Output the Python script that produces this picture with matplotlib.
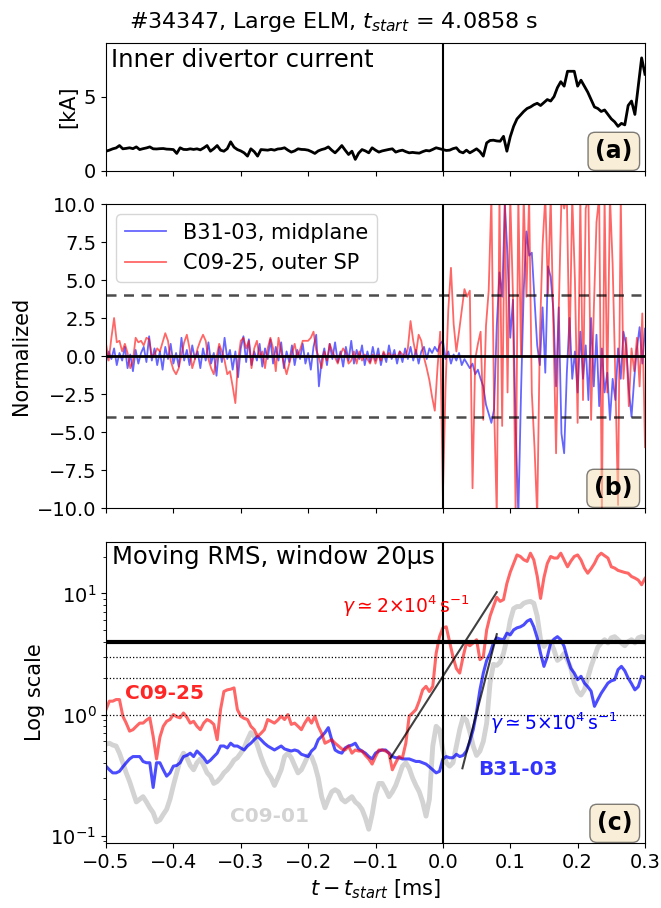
import numpy as np
import matplotlib
matplotlib.use("Agg")
import matplotlib.pyplot as plt
from matplotlib.ticker import MultipleLocator

# time axis in ms relative to t_start
t_a = np.linspace(-0.5, 0.3, 161)
t_b = np.linspace(-0.5, 0.3, 201)
t_c = np.linspace(-0.5, 0.3, 161)

# (a) inner divertor current [kA]
current_ka = [
    1.33, 1.40, 1.49, 1.55, 1.71, 1.49, 1.52, 1.56, 1.50, 1.62,
    1.44, 1.50, 1.55, 1.62, 1.49, 1.48, 1.50, 1.51, 1.47, 1.46,
    1.44, 1.18, 1.56, 1.45, 1.44, 1.49, 1.45, 1.49, 1.42, 1.55,
    1.71, 1.33, 1.50, 1.71, 1.40, 1.33, 1.50, 1.96, 1.60, 1.44,
    1.35, 1.22, 1.00, 1.49, 1.30, 1.00, 1.44, 1.42, 1.40, 1.45,
    1.40, 1.48, 1.50, 1.56, 1.40, 1.27, 1.35, 1.49, 1.45, 1.44,
    1.40, 1.30, 1.18, 1.35, 1.44, 1.50, 1.62, 1.40, 1.22, 1.45,
    1.71, 1.40, 1.11, 1.33, 0.78, 1.20, 1.44, 1.35, 1.22, 1.56,
    1.40, 1.27, 1.35, 1.40, 1.45, 1.49, 1.27, 1.35, 1.40, 1.30,
    1.22, 1.25, 1.22, 1.20, 1.30, 1.38, 1.35, 1.45, 1.56, 1.50,
    1.44, 1.38, 1.40, 1.50, 1.56, 1.30, 1.22, 1.40, 1.22, 1.35,
    1.49, 1.30, 1.00, 1.89, 2.05, 2.07, 2.02, 2.00, 2.33, 1.33,
    2.30, 3.00, 3.50, 3.75, 4.00, 4.20, 4.30, 4.45, 4.55, 4.40,
    4.60, 4.80, 4.70, 5.00, 5.60, 6.00, 5.70, 6.70, 6.70, 6.70,
    5.70, 6.10, 5.70, 5.30, 4.80, 4.30, 4.20, 4.00, 4.10, 3.80,
    3.50, 3.30, 3.00, 3.20, 3.10, 4.40, 4.70, 3.80, 5.70, 7.60,
    6.50,
]

# (b) normalized signals
b31_norm = [
    -0.4, 0.3, -0.2, 0.5, -0.6, 0.2, -0.3, 0.6, -0.8, 0.1,
    -1.0, 0.4, -0.5, 0.2, 0.6, -0.4, 1.3, -0.3, 0.5, -0.6,
    0.3, -0.9, 0.6, -0.2, 0.8, -0.5, 0.2, -0.7, 1.2, -0.3,
    0.4, -0.6, 0.7, -0.2, 0.3, -0.8, 0.5, -0.3, 0.9, -0.5,
    0.2, -1.3, 0.6, -0.4, 1.2, -0.2, 0.4, -0.9, 0.3, -1.4,
    0.5, 1.3, -0.4, 1.1, -0.6, 0.3, -0.3, 0.8, -0.7, 0.5,
    -0.2, 1.1, -0.5, 0.6, -0.3, 0.9, -0.8, 0.3, -0.4, 0.7,
    -0.6, 0.4, -0.2, 0.8, -0.5, 0.2, -0.9, 0.6, 1.4, -2.0,
    -0.3, 0.5, -0.6, 0.8, -0.2, 0.9, -0.4, 0.3, -0.7, 0.6,
    -0.3, 1.0, -0.5, 0.4, -0.2, 0.7, -0.6, 0.3, -0.4, 0.6,
    -0.3, 0.5, -0.6, 0.2, -0.4, 0.7, -0.2, 0.4, -0.5, 0.3,
    -0.4, 0.5, -0.2, 0.6, -0.3, 0.4, -0.5, 0.3, 0.6, -0.2,
    0.5, 0.2, 0.6, 0.3, 0.8, 1.0, -0.2, 0.3, -0.5, 0.1,
    -0.3, 0.2, -0.6, -0.2, -0.5, -0.8, -0.5, -1.2, -0.9, -1.5,
    -2.0, -3.2, -3.8, -4.4, -3.5, 2.0, 5.5, 3.9, 10.0, 6.6,
    1.2, 3.7, -4.6, -10.5, -2.4, 4.3, 8.2, 6.6, 6.8, 3.7,
    0.7, -0.6, 3.2, -1.1, 5.9, 5.2, 3.0, -2.0, 3.2, -5.1,
    -6.4, -1.1, 2.5, -1.5, 0.3, -2.4, 1.6, -1.5, 0.7, -2.9,
    2.5, -2.0, 1.4, -3.3, 0.5, -2.4, -1.1, -4.2, -1.5, -2.9,
    0.5, -1.5, 1.6, 0.7, -2.2, -4.0, -1.5, 0.5, 1.9, -0.5,
    1.8,
]
c09_25_norm = [
    0.8, -0.3, 1.2, 2.5, 0.9, 1.0, 0.3, 0.8, 0.2, -0.8,
    -0.3, 1.2, 0.9, 1.0, 0.7, 1.2, 1.1, -0.1, 0.1, 0.5,
    0.3, 0.9, 1.5, 1.0, -0.3, -0.9, -1.2, -0.8, 0.1, 0.9,
    1.4, 0.5, -0.8, -0.2, 0.5, 1.0, 1.4, 1.0, -0.2, -0.8,
    -1.2, -0.1, 0.8, 0.3, -0.3, -1.2, -1.0, -2.0, -3.1, -0.3,
    1.0, 1.2, 0.5, 1.0, -0.8, 0.5, 1.0, -0.1, 0.3, -0.8,
    0.5, 1.2, 0.5, -1.0, 1.2, 0.3, -0.5, -1.2, -0.5, 0.2,
    0.8, -0.1, 0.4, 1.0, 1.0, 1.0, 1.2, 1.6, 0.4, -0.1,
    -0.8, 0.3, -0.3, 0.8, 0.3, -0.1, -0.5, 0.1, 0.5, 0.2,
    -0.5, -0.3, 0.3, -0.5, 0.3, -0.3, 0.1, -0.2, -0.5, 0.1,
    -0.5, 0.1, -0.3, 0.3, -0.1, 0.2, -0.1, 0.1, -0.1, 0.3,
    0.1, -0.1, 0.5, 2.3, 1.0, 0.1, 1.4, 1.0, -0.1, -0.8,
    -1.6, -2.7, -3.6, -0.8, 1.6, -9.2, -2.0, 3.0, 5.8, 2.1,
    0.3, 1.6, 3.0, 4.4, 3.9, 4.3, -8.7, -0.2, 0.8, 1.6,
    -4.2, 2.0, 4.3, 10.5, -3.3, -10.5, 10.5, -4.6, 10.5, -2.4,
    10.5, 4.0, -10.5, 10.5, 0.0, 10.5, 3.9, 10.5, -2.4, -6.0,
    -10.5, 1.4, 7.3, 10.5, 4.1, 10.5, 2.0, -6.4, 3.0, 10.5,
    9.7, 10.5, 0.0, 10.5, 5.0, -4.4, 10.5, -2.9, 9.7, 10.5,
    -4.2, 3.0, 8.8, 10.5, -10.5, 10.5, -2.4, 10.5, 6.0, -1.5,
    -9.8, 10.5, -1.5, 1.2, -3.3, 0.5, -1.0, 1.2, -2.0, 2.8,
    -6.0,
]

# (c) moving RMS
rms_c09_25 = [
    1.10, 1.29, 1.29, 1.33, 1.33, 0.97, 0.85, 0.73, 0.75, 0.80,
    0.85, 0.85, 0.90, 0.94, 0.66, 0.43, 0.65, 0.80, 0.88, 0.91,
    1.00, 0.96, 0.94, 1.03, 0.95, 0.85, 0.88, 0.80, 0.75, 0.85,
    0.91, 0.88, 0.83, 0.62, 1.10, 1.55, 1.60, 1.62, 1.66, 1.10,
    0.97, 0.93, 0.91, 0.80, 0.75, 0.66, 0.70, 0.75, 0.91, 0.88,
    0.85, 0.90, 0.97, 0.91, 1.00, 0.83, 0.85, 0.80, 0.75, 0.85,
    0.94, 0.85, 0.97, 0.80, 0.70, 0.58, 0.60, 0.62, 0.58, 0.55,
    0.52, 0.51, 0.55, 0.48, 0.51, 0.50, 0.50, 0.46, 0.43, 0.39,
    0.45, 0.51, 0.51, 0.50, 0.48, 0.35, 0.40, 0.45, 0.44, 0.58,
    0.97, 1.03, 1.10, 1.30, 1.60, 1.71, 1.55, 1.71, 3.20, 4.40,
    5.20, 5.30, 4.00, 3.00, 2.40, 2.20, 3.00, 3.90, 3.70, 3.90,
    4.15, 2.84, 3.00, 5.00, 6.50, 7.80, 9.30, 8.60, 8.90, 12.1,
    15.0, 17.7, 20.8, 20.2, 19.0, 18.4, 21.5, 18.9, 13.9, 9.10,
    13.5, 17.7, 20.2, 19.6, 19.6, 21.5, 18.9, 16.6, 18.5, 20.2,
    20.8, 18.9, 16.2, 14.7, 16.0, 17.7, 20.2, 21.5, 20.5, 19.6,
    16.6, 16.2, 15.5, 15.2, 14.9, 14.7, 13.8, 13.4, 12.9, 11.8,
    13.3,
]
rms_b31_03 = [
    0.375, 0.35, 0.33, 0.33, 0.34, 0.37, 0.40, 0.43, 0.45, 0.45,
    0.45, 0.41, 0.40, 0.40, 0.25, 0.40, 0.40, 0.35, 0.31, 0.33,
    0.375, 0.38, 0.40, 0.45, 0.46, 0.48, 0.45, 0.50, 0.47, 0.44,
    0.40, 0.42, 0.45, 0.48, 0.55, 0.55, 0.53, 0.58, 0.55, 0.55,
    0.53, 0.51, 0.55, 0.58, 0.62, 0.66, 0.62, 0.58, 0.55, 0.53,
    0.51, 0.53, 0.55, 0.52, 0.51, 0.50, 0.51, 0.50, 0.47, 0.46,
    0.45, 0.50, 0.53, 0.62, 0.66, 0.71, 0.78, 0.62, 0.51, 0.49,
    0.48, 0.53, 0.55, 0.56, 0.58, 0.52, 0.50, 0.48, 0.45, 0.43,
    0.48, 0.50, 0.51, 0.51, 0.48, 0.45, 0.44, 0.44, 0.43, 0.43,
    0.43, 0.42, 0.41, 0.41, 0.40, 0.39, 0.37, 0.35, 0.33, 0.34,
    0.43, 0.45, 0.44, 0.44, 0.47, 0.45, 0.46, 0.50, 0.60, 0.75,
    1.05, 1.60, 2.20, 2.80, 3.20, 3.90, 4.30, 4.20, 4.15, 4.70,
    4.55, 5.00, 5.20, 5.30, 5.50, 5.90, 6.10, 5.30, 4.30, 3.20,
    2.50, 3.00, 3.90, 4.20, 4.40, 4.15, 3.65, 2.90, 2.40, 2.20,
    1.94, 2.07, 1.82, 1.70, 1.56, 1.17, 1.33, 1.50, 1.65, 1.82,
    1.90, 1.94, 2.35, 2.50, 2.30, 2.00, 1.80, 1.60, 1.70, 2.07,
    2.00,
]
rms_c09_01 = [
    0.57, 0.58, 0.56, 0.55, 0.48, 0.40, 0.33, 0.28, 0.23, 0.19,
    0.20, 0.21, 0.19, 0.17, 0.155, 0.13, 0.135, 0.15, 0.165, 0.20,
    0.26, 0.33, 0.42, 0.48, 0.44, 0.38, 0.35, 0.40, 0.43, 0.38,
    0.33, 0.31, 0.27, 0.28, 0.30, 0.33, 0.35, 0.38, 0.42, 0.44,
    0.48, 0.53, 0.62, 0.71, 0.66, 0.55, 0.45, 0.38, 0.33, 0.30,
    0.26, 0.30, 0.35, 0.45, 0.48, 0.44, 0.38, 0.33, 0.35, 0.40,
    0.46, 0.45, 0.38, 0.30, 0.21, 0.17, 0.20, 0.23, 0.24, 0.23,
    0.20, 0.19, 0.20, 0.21, 0.19, 0.18, 0.165, 0.14, 0.113, 0.15,
    0.22, 0.27, 0.27, 0.24, 0.21, 0.23, 0.26, 0.31, 0.375, 0.40,
    0.36, 0.30, 0.26, 0.23, 0.19, 0.145, 0.20, 0.55, 0.80, 0.75,
    0.51, 0.40, 0.375, 0.40, 0.55, 0.75, 0.95, 0.90, 0.72, 0.55,
    0.46, 0.50, 0.60, 0.85, 1.82, 2.60, 2.55, 2.70, 3.20, 4.20,
    6.00, 7.50, 7.80, 7.80, 8.30, 8.50, 8.60, 8.30, 6.50, 4.15,
    3.65, 4.00, 4.00, 3.40, 2.80, 2.93, 3.20, 2.80, 2.40, 1.82,
    1.55, 1.45, 1.60, 2.00, 2.50, 3.00, 3.60, 3.90, 4.15, 3.90,
    4.30, 4.40, 4.15, 3.90, 3.70, 4.00, 4.15, 3.90, 4.30, 4.40,
    4.30,
]

# growth-rate fits (gamma in 1/s), anchors and time spans in ms
gamma_red = 2e4
gamma_blue = 5e4
fit_red_t = (-0.078, 0.080)
fit_red_anchor = (0.0, 2.07)
fit_blue_t = (0.029, 0.080)
fit_blue_anchor = (0.029, 0.36)

W, H = 661, 908
fig = plt.figure(figsize=(W / 100, H / 100), dpi=100)

left = 106 / W
width = (645 - 106) / W


def rect(top_px, bot_px):
    return [left, 1 - bot_px / H, width, (bot_px - top_px) / H]


ax1 = fig.add_axes(rect(43, 171))
ax2 = fig.add_axes(rect(204, 508), sharex=ax1)
ax3 = fig.add_axes(rect(542, 843), sharex=ax1)

TICK = 14
LAB = 15

fig.text(0.505, 1 - 22 / H, '#34347, Large ELM, $t_{start}$ = 4.0858 s',
         ha='center', va='center', fontsize=16)


def tag(ax, s):
    ax.annotate(s, xy=(1, 0), xycoords='axes fraction', xytext=(-9, 5.5),
                textcoords='offset points', ha='right', va='bottom',
                fontsize=17, fontweight='bold',
                bbox=dict(boxstyle='round', facecolor='wheat', alpha=0.5))


# (a)
ax1.plot(t_a, current_ka, 'k', lw=2)
ax1.axvline(0, color='k', lw=1.5)
ax1.set_ylim(0, 8.6)
ax1.set_yticks([0, 5])
ax1.set_ylabel('[kA]', fontsize=LAB)
ax1.text(0.009, 0.96, 'Inner divertor current', transform=ax1.transAxes,
         ha='left', va='top', fontsize=17.5)
tag(ax1, '(a)')

# (b)
ax2.plot(t_b, b31_norm, color='b', alpha=0.6, lw=1.3, label='B31-03, midplane')
ax2.plot(t_b, c09_25_norm, color='r', alpha=0.6, lw=1.3, label='C09-25, outer SP')
ax2.axhline(0, color='k', lw=2)
ax2.axhline(4, color='k', ls='--', lw=1.8, alpha=0.7, dashes=(4, 3))
ax2.axhline(-4, color='k', ls='--', lw=1.8, alpha=0.7, dashes=(4, 3))
ax2.axvline(0, color='k', lw=1.5)
ax2.set_ylim(-10, 10)
ax2.yaxis.set_major_locator(MultipleLocator(2.5))
ax2.set_ylabel('Normalized', fontsize=LAB)
ax2.legend(loc='upper left', fontsize=15)
tag(ax2, '(b)')

# (c)
ax3.plot(t_c, rms_c09_01, color='lightgray', lw=3.5)
ax3.plot(t_c, rms_b31_03, color='b', alpha=0.7, lw=2.2)
ax3.plot(t_c, rms_c09_25, color='r', alpha=0.6, lw=2.2)
for lvl in (1, 2, 3):
    ax3.axhline(lvl, color='k', ls=':', lw=0.9)
ax3.axhline(4, color='k', lw=3)
ax3.axvline(0, color='k', lw=1.5)

tr = np.linspace(*fit_red_t, 20)
ax3.plot(tr, fit_red_anchor[1] * np.exp(gamma_red * 1e-3 * (tr - fit_red_anchor[0])),
         color='k', lw=1.5, alpha=0.75)
tb = np.linspace(*fit_blue_t, 20)
ax3.plot(tb, fit_blue_anchor[1] * np.exp(gamma_blue * 1e-3 * (tb - fit_blue_anchor[0])),
         color='k', lw=1.5, alpha=0.75)

ax3.set_yscale('log')
ax3.set_ylim(0.087, 26.6)
ax3.set_xlim(-0.5, 0.3)
ax3.set_ylabel('Log scale', fontsize=LAB)
ax3.set_xlabel('$t - t_{start}$ [ms]', fontsize=LAB)
ax3.text(0.012, 0.989, 'Moving RMS, window 20μs', transform=ax3.transAxes,
         ha='left', va='top', fontsize=17.5)
ax3.text(-0.055, 7.8, r'$\gamma \simeq 2{\times}10^4\,\mathrm{s}^{-1}$',
         color='r', ha='center', va='center', fontsize=13.5)
ax3.text(0.165, 0.85, r'$\gamma \simeq 5{\times}10^4\,\mathrm{s}^{-1}$',
         color='b', ha='center', va='center', fontsize=13.5)
ax3.text(-0.413, 1.49, 'C09-25', color='r', alpha=0.85, fontweight='bold',
         ha='center', va='center', fontsize=14.5)
ax3.text(0.112, 0.352, 'B31-03', color='b', alpha=0.8, fontweight='bold',
         ha='center', va='center', fontsize=14.5)
ax3.text(-0.258, 0.143, 'C09-01', color='lightgray', fontweight='bold',
         ha='center', va='center', fontsize=14.5)
tag(ax3, '(c)')

for ax in (ax1, ax2, ax3):
    ax.tick_params(labelsize=TICK)
plt.setp(ax1.get_xticklabels(), visible=False)
plt.setp(ax2.get_xticklabels(), visible=False)

fig.savefig('out.png', dpi=100)
